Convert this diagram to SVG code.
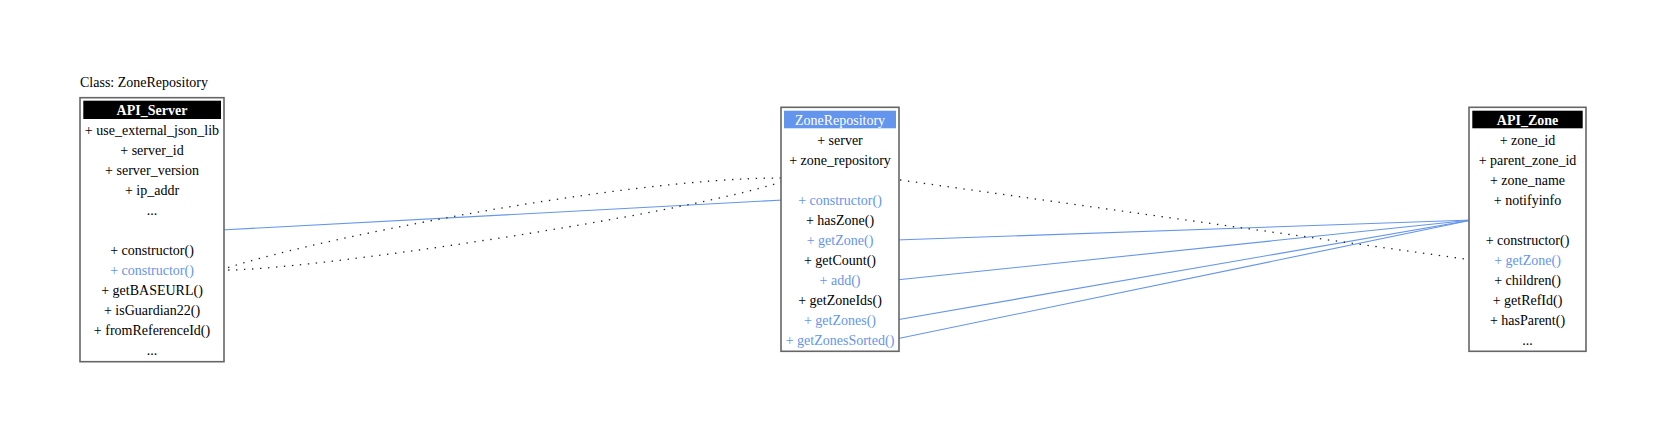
<svg xmlns="http://www.w3.org/2000/svg" width="1656" height="438" viewBox="0 0 1656 438">
<style>
  text { font-family: "Liberation Serif", "Times New Roman", serif; font-size: 14px; }
  .row { text-anchor: middle; fill: #000; }
  .hl { fill: #6495ED; }
  .hdr { text-anchor: middle; fill: #fff; }
  .bold { font-weight: bold; }
  .box { fill: #fff; stroke: #666; stroke-width: 1.6; }
  .blue { stroke: #6495ED; stroke-width: 1.1; fill: none; }
  .dot { stroke: #222; stroke-width: 1.3; fill: none; stroke-dasharray: 1.4 6.6; }
</style>
<rect width="1656" height="438" fill="#fff"/>
<text x="80" y="87">Class: ZoneRepository</text>

<g id="connectors">
  <line class="blue" x1="221" y1="230" x2="784" y2="200"/>
  <line class="blue" x1="896" y1="240" x2="1472" y2="220"/>
  <line class="blue" x1="896" y1="280" x2="1472" y2="220"/>
  <line class="blue" x1="896" y1="320" x2="1472" y2="220"/>
  <line class="blue" x1="896" y1="339" x2="1472" y2="220"/>
  <line class="dot" x1="900" y1="180" x2="1472" y2="260"/>
  <path class="dot" d="M781,178 C620,178 300,242 221,270 C300,272 680,215 781,182"/>
</g>

<g id="node-api-server">
  <rect class="box" x="80" y="97.7" width="144" height="264"/>
  <rect x="83.3" y="100.7" width="137.7" height="18.3" fill="#000"/>
  <text class="hdr bold" x="152" y="115">API_Server</text>
  <text class="row" x="152" y="135">+ use_external_json_lib</text>
  <text class="row" x="152" y="155">+ server_id</text>
  <text class="row" x="152" y="175">+ server_version</text>
  <text class="row" x="152" y="195">+ ip_addr</text>
  <text class="row" x="152" y="215">...</text>
  <text class="row" x="152" y="255">+ constructor()</text>
  <text class="row hl" x="152" y="275">+ constructor()</text>
  <text class="row" x="152" y="295">+ getBASEURL()</text>
  <text class="row" x="152" y="315">+ isGuardian22()</text>
  <text class="row" x="152" y="335">+ fromReferenceId()</text>
  <text class="row" x="152" y="355">...</text>
</g>

<g id="node-zone-repository">
  <rect class="box" x="781" y="107.3" width="118" height="244"/>
  <rect x="784" y="110.7" width="112" height="17.6" fill="#6495ED"/>
  <text class="hdr" x="840" y="125">ZoneRepository</text>
  <text class="row" x="840" y="145">+ server</text>
  <text class="row" x="840" y="165">+ zone_repository</text>
  <text class="row hl" x="840" y="205">+ constructor()</text>
  <text class="row" x="840" y="225">+ hasZone()</text>
  <text class="row hl" x="840" y="245">+ getZone()</text>
  <text class="row" x="840" y="265">+ getCount()</text>
  <text class="row hl" x="840" y="285">+ add()</text>
  <text class="row" x="840" y="305">+ getZoneIds()</text>
  <text class="row hl" x="840" y="325">+ getZones()</text>
  <text class="row hl" x="840" y="345">+ getZonesSorted()</text>
</g>

<g id="node-api-zone">
  <rect class="box" x="1469" y="107.3" width="117" height="244"/>
  <rect x="1472.3" y="110.7" width="110.4" height="17.6" fill="#000"/>
  <text class="hdr bold" x="1527.5" y="125">API_Zone</text>
  <text class="row" x="1527.5" y="145">+ zone_id</text>
  <text class="row" x="1527.5" y="165">+ parent_zone_id</text>
  <text class="row" x="1527.5" y="185">+ zone_name</text>
  <text class="row" x="1527.5" y="205">+ notifyinfo</text>
  <text class="row" x="1527.5" y="245">+ constructor()</text>
  <text class="row hl" x="1527.5" y="265">+ getZone()</text>
  <text class="row" x="1527.5" y="285">+ children()</text>
  <text class="row" x="1527.5" y="305">+ getRefId()</text>
  <text class="row" x="1527.5" y="325">+ hasParent()</text>
  <text class="row" x="1527.5" y="345">...</text>
</g>
</svg>
